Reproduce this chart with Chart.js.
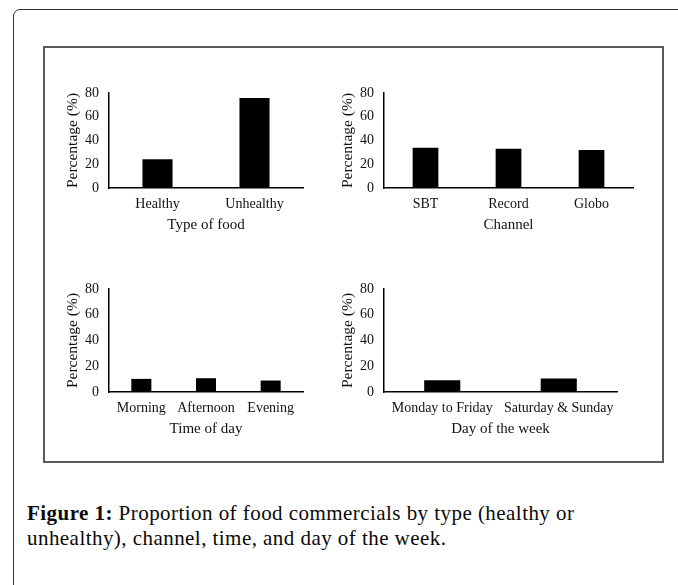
<!DOCTYPE html>
<html><head><meta charset="utf-8">
<script src="https://cdn.jsdelivr.net/npm/chart.js@4.4.0/dist/chart.umd.min.js"></script>
<style>
html,body{margin:0;padding:0;background:#fff;width:678px;height:585px;overflow:hidden;}
#outer{position:absolute;left:13px;top:9px;width:720px;height:640px;border:1.5px solid #333;border-top-left-radius:7px;box-sizing:border-box;}
#inner{position:absolute;left:43px;top:46px;width:621px;height:417px;border:2px solid #5a5a5a;box-sizing:border-box;}
canvas{position:absolute;}
#caption{position:absolute;left:27px;top:501px;font-family:"Liberation Serif",serif;font-size:21px;letter-spacing:0.45px;line-height:25px;color:#0a0a0a;white-space:nowrap;}
</style></head>
<body>
<div id="outer"></div>
<div id="inner"></div>
<canvas id="c1"></canvas>
<canvas id="c2"></canvas>
<canvas id="c3"></canvas>
<canvas id="c4"></canvas>
<div id="caption"><b>Figure 1:</b> Proportion of food commercials by type (healthy or<br>unhealthy), channel, time, and day of the week.</div>
<script>
const foodTypes = ['Healthy', 'Unhealthy'];
const foodValues = [24.2, 75.8];
const channels = ['SBT', 'Record', 'Globo'];
const channelValues = [34, 33, 32];
const times = ['Morning', 'Afternoon', 'Evening'];
const timeValues = [10.2, 10.7, 8.9];
const days = ['Monday to Friday', 'Saturday & Sunday'];
const dayValues = [9.1, 10.4];
const yTicks = [0, 20, 40, 60, 80];
const yTitle = 'Percentage (%)';
const xTitles = ['Type of food', 'Channel', 'Time of day', 'Day of the week'];

const YW = 50, PT = 12, PR = 10, XH = 48;
const FONT = 'Liberation Serif';

function make(id, labels, values, xTitle, area) {
  const cv = document.getElementById(id);
  const left = area.l - YW, top = area.t - PT;
  const w = area.r - left + PR, h = area.b - top + XH;
  cv.width = w; cv.height = h;
  cv.style.left = left + 'px'; cv.style.top = top + 'px';
  cv.style.width = w + 'px'; cv.style.height = h + 'px';
  new Chart(cv, {
    type: 'bar',
    data: { labels: labels, datasets: [{ data: values, backgroundColor: '#000', borderWidth: 0, categoryPercentage: 1, barPercentage: 0.31 }] },
    options: {
      responsive: false, animation: false, devicePixelRatio: 1,
      layout: { padding: { top: PT, right: PR, left: 0, bottom: 0 } },
      plugins: { legend: { display: false }, tooltip: { enabled: false } },
      scales: {
        x: {
          grid: { display: false, drawTicks: false },
          border: { display: true, color: '#000', width: 1.5 },
          ticks: { padding: 8, color: '#111', font: { family: FONT, size: 14 }, maxRotation: 0, autoSkip: false },
          title: { display: true, text: xTitle, color: '#111', font: { family: FONT, size: 15 }, padding: { top: 0, bottom: 1.5 } },
          afterFit(s) { s.height = XH; s.paddingLeft = 0; s.paddingRight = 0; s.paddingTop = 0; s.paddingBottom = 0; }
        },
        y: {
          min: 0, max: 80,
          grid: { display: false, drawTicks: false },
          border: { display: true, color: '#000', width: 1.5 },
          afterBuildTicks(s) { s.ticks = yTicks.map(v => ({ value: v })); },
          ticks: { padding: 10, color: '#111', font: { family: FONT, size: 14 } },
          title: { display: true, text: yTitle, color: '#111', font: { family: FONT, size: 15.5 }, padding: { top: 5, bottom: 0 } },
          afterFit(s) { s.width = YW; s.paddingTop = 0; s.paddingBottom = 0; s.paddingLeft = 0; s.paddingRight = 0; }
        }
      }
    }
  });
}

make('c1', foodTypes, foodValues, xTitles[0], { l: 109, t: 93, r: 303, b: 188 });
make('c2', channels, channelValues, xTitles[1], { l: 384, t: 93, r: 633, b: 188 });
make('c3', times, timeValues, xTitles[2], { l: 109, t: 289, r: 303, b: 392 });
make('c4', days, dayValues, xTitles[3], { l: 384, t: 289, r: 617, b: 392 });
</script>
</body></html>
